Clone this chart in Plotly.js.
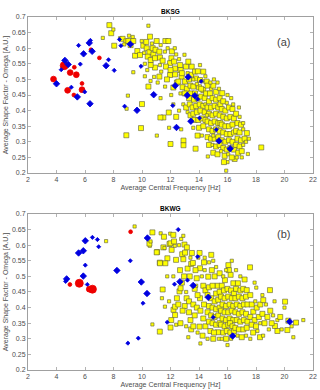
<!DOCTYPE html>
<html>
<head>
<meta charset="utf-8">
<script src="https://cdn.plot.ly/plotly-3.0.1.min.js"></script>
<style>
  body { margin: 0; background: #fff; }
  #chart { width: 320px; height: 390px; }
</style>
</head>
<body>
<div id="chart"></div>
<script>
/* DATOS BKSG (panel a) - n = clase de tamano (1 pequeno, 2 grande, 3 muy grande) */
var bksgAmaX = [
  7.25,7.71,7.84,7.99,8.05,8.46,8.64,8.9,9.04,9.09,
  9.2,9.35,9.39,8.75,9.51,9.67,9.86,9.98,10.09,10.45,
  10.33,10.52,10.56,10.75,10.8,10.4,10.61,10.91,10.91,10.61,
  10.37,10.45,10.2,10.7,10.95,10.15,10.85,10.6,9.39,10.3,
  11.03,11.31,11.64,11.85,11.22,11.26,11.61,12.06,11.97,12.25,
  11.68,11.26,11.22,11.97,12.32,12.32,11.62,12.2,11.5,11.88,
  11.45,11.8,12.1,12.4,11.35,11.75,12.0,12.45,11.1,12.05,
  11.04,11.29,12.0,11.3,12.3,12.67,13.09,13.49,13.25,12.71,
  12.78,12.55,13.02,13.3,12.98,12.6,12.85,13.15,13.4,12.7,
  13.0,13.3,12.9,13.45,13.2,12.91,12.91,13.1,13.35,12.6,
  13.45,12.8,13.2,13.4,12.75,13.72,14.07,13.79,14.3,14.07,
  14.54,13.6,13.72,14.3,14.22,13.92,14.0,13.65,13.9,14.15,
  14.4,13.55,13.8,14.05,14.3,13.6,13.85,14.1,14.4,13.7,
  13.95,14.2,14.45,13.6,14.0,14.3,13.9,14.2,13.76,14.45,
  13.6,14.45,14.15,13.85,14.5,14.77,14.6,14.85,15.0,15.2,
  15.4,14.7,14.95,15.2,15.45,14.6,14.85,15.1,15.35,14.7,
  14.95,15.2,15.45,14.6,14.85,15.1,15.35,14.7,14.95,15.2,
  15.45,14.6,14.85,15.1,15.35,14.7,14.95,15.2,15.45,14.62,
  15.0,15.3,14.55,15.05,15.5,14.8,15.3,15.5,15.0,15.63,
  16.26,15.7,15.95,15.6,15.85,16.1,16.35,15.7,15.95,16.2,
  16.45,15.6,15.85,16.1,16.35,15.7,15.95,16.2,16.45,15.6,
  15.85,16.1,16.35,15.7,15.95,16.2,16.45,15.8,16.05,16.5,
  15.91,16.3,15.55,16.0,15.75,16.4,16.0,16.6,16.85,16.7,
  16.95,16.6,16.85,17.1,16.7,16.95,17.2,16.6,16.85,17.1,
  16.75,17.0,17.43,17.36,18.37,17.3,17.1,16.65,17.5,17.0,
  16.8,8.9,9.01,8.92,10.0,9.93,10.2,11.9,12.4,12.2
];
var bksgAmaY = [
  0.633,0.674,0.648,0.66,0.608,0.632,0.63,0.622,0.623,0.64,
  0.61,0.636,0.623,0.612,0.576,0.591,0.578,0.623,0.608,0.672,
  0.6,0.587,0.637,0.6,0.58,0.573,0.562,0.568,0.538,0.546,
  0.53,0.477,0.55,0.615,0.595,0.585,0.508,0.495,0.523,0.62,
  0.623,0.61,0.623,0.623,0.589,0.57,0.589,0.568,0.552,0.557,
  0.541,0.546,0.509,0.514,0.516,0.535,0.477,0.474,0.378,0.394,
  0.56,0.6,0.59,0.58,0.525,0.5,0.53,0.49,0.49,0.45,
  0.32,0.378,0.293,0.44,0.6,0.546,0.541,0.541,0.557,0.53,
  0.509,0.493,0.493,0.5,0.579,0.565,0.475,0.47,0.48,0.455,
  0.455,0.44,0.42,0.515,0.52,0.304,0.289,0.41,0.42,0.4,
  0.455,0.52,0.395,0.385,0.34,0.525,0.546,0.503,0.525,0.498,
  0.493,0.477,0.455,0.466,0.494,0.526,0.475,0.435,0.44,0.445,
  0.44,0.41,0.415,0.42,0.415,0.39,0.395,0.4,0.395,0.37,
  0.37,0.375,0.37,0.345,0.345,0.35,0.32,0.32,0.278,0.42,
  0.5,0.51,0.47,0.485,0.455,0.455,0.48,0.47,0.48,0.46,
  0.47,0.43,0.44,0.435,0.44,0.41,0.41,0.415,0.41,0.39,
  0.385,0.39,0.385,0.365,0.36,0.365,0.36,0.34,0.335,0.34,
  0.335,0.315,0.31,0.31,0.315,0.29,0.29,0.285,0.29,0.253,
  0.265,0.26,0.385,0.5,0.42,0.49,0.49,0.36,0.32,0.456,
  0.44,0.43,0.425,0.405,0.4,0.41,0.405,0.38,0.375,0.38,
  0.375,0.355,0.35,0.35,0.355,0.33,0.325,0.325,0.33,0.305,
  0.3,0.305,0.3,0.28,0.275,0.28,0.275,0.255,0.26,0.245,
  0.2075,0.25,0.27,0.235,0.235,0.42,0.45,0.39,0.38,0.36,
  0.355,0.335,0.33,0.34,0.31,0.305,0.31,0.29,0.285,0.29,
  0.265,0.27,0.261,0.328,0.282,0.3,0.36,0.25,0.31,0.25,
  0.41,0.321,0.448,0.406,0.421,0.344,0.51,0.345,0.38,0.42
];
var bksgAmaN = [
  1,2,2,1,2,1,2,2,2,1,
  2,1,2,1,2,2,2,1,2,1,
  2,2,2,2,2,2,2,2,2,2,
  1,2,1,1,2,1,1,1,1,2,
  2,1,2,2,2,2,1,2,2,2,
  2,1,2,2,2,2,1,2,2,2,
  2,1,2,1,1,2,2,2,1,1,
  1,2,2,1,1,2,2,2,2,2,
  2,2,2,2,1,1,2,2,2,1,
  2,2,1,2,1,2,2,2,2,1,
  2,2,1,2,1,2,1,2,2,2,
  2,2,2,2,1,2,2,2,2,2,
  2,2,2,2,2,2,2,2,2,2,
  2,2,2,1,2,2,2,1,2,1,
  1,1,2,1,2,2,2,1,2,2,
  1,2,2,2,2,2,2,2,2,2,
  2,2,2,2,2,2,2,2,2,2,
  2,2,2,2,2,2,1,2,2,1,
  2,2,1,1,2,1,1,2,1,2,
  1,2,1,2,2,2,2,2,2,2,
  2,2,2,2,2,2,2,2,2,2,
  2,2,2,2,2,2,2,2,1,2,
  1,2,1,1,2,1,1,2,1,2,
  2,2,2,1,2,2,2,2,2,1,
  2,2,1,2,2,1,1,1,1,1,
  1,2,1,1,2,2,1,1,2,1
];

var bksgAzulX = [4.0,4.33,4.59,4.82,5.04,5.46,5.55,5.67,5.9,5.98,
  6.3,6.35,6.5,7.48,7.65,8.05,8.42,8.52,9.18,9.93,
  8.78,9.65,10.82,12.33,13.24,13.17,13.71,13.9,14.15,12.16,
  13.43,12.42,14.04,15.21,15.4,16.19,6.38];
var bksgAzulY = [0.486,0.531,0.561,0.548,0.475,0.444,0.609,0.549,0.582,0.46,
  0.617,0.422,0.59,0.544,0.563,0.529,0.628,0.608,0.613,0.542,
  0.414,0.401,0.451,0.48,0.508,0.449,0.448,0.437,0.494,0.416,
  0.366,0.346,0.376,0.339,0.303,0.278,0.625];
var bksgAzulN = [2,1,2,2,1,2,1,1,2,1,
  2,2,2,2,1,1,1,1,2,1,
  1,2,2,2,2,2,2,1,1,1,
  2,2,1,1,2,2,1];

var bksgRojoX = [3.79,4.54,4.96,5.39,4.78,5.79,5.25,5.22,5.79,6.42,7.01];
var bksgRojoY = [0.501,0.544,0.522,0.515,0.465,0.467,0.539,0.45,0.487,0.595,0.569];
var bksgRojoN = [2,3,2,2,2,2,1,1,1,1,1];

/* DATOS BKWG (panel b) */
var bkwgAmaX = [
  7.48,9.48,10.55,10.73,10.52,10.6,11.06,11.25,10.73,11.25,
  11.31,11.54,11.98,12.2,11.93,11.5,11.58,11.03,12.01,12.08,
  11.78,11.64,11.26,12.39,12.3,12.25,11.45,11.4,11.61,12.21,
  12.0,12.32,12.32,12.63,12.05,12.4,11.77,12.2,12.45,11.9,
  12.67,12.82,12.98,13.15,13.02,12.9,12.71,13.13,13.3,12.8,
  12.95,13.2,13.4,13.35,13.45,12.6,12.75,13.1,13.0,12.85,
  13.3,13.4,12.7,13.1,13.45,13.25,12.55,13.57,14.04,13.84,
  14.07,14.07,13.7,14.3,13.9,14.2,14.35,13.75,14.45,13.6,
  13.85,14.1,14.35,13.7,14.04,14.3,13.6,13.9,14.25,14.45,
  14.1,13.8,14.4,13.95,14.86,14.7,14.65,14.9,15.1,15.3,
  14.7,14.95,15.2,15.45,14.6,14.85,15.1,15.35,14.7,14.95,
  15.2,15.45,14.6,14.85,15.1,15.35,14.7,14.95,15.2,15.45,
  15.33,14.8,15.05,14.6,15.0,15.4,15.2,15.45,15.0,16.06,
  16.1,16.22,15.82,16.41,15.6,15.75,16.0,16.25,16.45,15.55,
  15.8,16.05,16.3,15.65,15.9,16.15,16.4,15.55,15.8,16.05,
  16.3,15.65,15.9,16.15,16.4,15.55,15.8,16.05,16.18,16.35,
  15.7,15.95,16.2,16.45,15.6,15.9,16.25,16.0,15.7,16.3,
  16.73,16.6,16.9,17.1,17.35,16.55,16.8,17.05,17.3,16.65,
  16.9,17.15,17.4,16.55,16.8,17.05,17.3,16.65,16.9,17.15,
  17.4,16.55,16.8,17.11,17.35,16.7,17.0,17.3,16.9,17.2,
  16.6,17.58,18.02,17.6,17.81,18.05,17.7,17.95,18.3,17.6,
  17.9,18.2,18.45,17.7,18.0,18.3,17.8,18.28,18.1,17.6,
  18.45,17.9,18.98,18.51,18.7,19.0,18.8,19.2,18.6,19.33,
  19.1,19.5,18.9,19.5,20.04,20.0,19.3,20.27,20.81,21.32,
  20.62,20.2,19.8,18.5,19.7,20.5,13.5,14.4,12.9,15.9
];
var bkwgAmaY = [
  0.613,0.66,0.598,0.641,0.605,0.612,0.578,0.544,0.346,0.323,
  0.638,0.627,0.637,0.633,0.604,0.593,0.591,0.577,0.606,0.585,
  0.558,0.542,0.542,0.553,0.598,0.612,0.458,0.43,0.403,0.393,
  0.336,0.403,0.376,0.452,0.36,0.345,0.5,0.5,0.43,0.42,
  0.52,0.571,0.602,0.593,0.576,0.555,0.462,0.43,0.42,0.48,
  0.5,0.525,0.56,0.5,0.54,0.6,0.62,0.45,0.405,0.39,
  0.385,0.36,0.35,0.34,0.33,0.305,0.41,0.543,0.575,0.494,
  0.526,0.43,0.46,0.47,0.44,0.5,0.545,0.52,0.455,0.41,
  0.4,0.39,0.41,0.375,0.339,0.365,0.34,0.32,0.31,0.34,
  0.285,0.47,0.52,0.56,0.569,0.545,0.499,0.52,0.5,0.47,
  0.465,0.47,0.445,0.45,0.44,0.43,0.42,0.425,0.405,0.4,
  0.395,0.4,0.385,0.375,0.37,0.375,0.355,0.35,0.345,0.35,
  0.321,0.325,0.32,0.3,0.3,0.3,0.53,0.51,0.55,0.536,
  0.52,0.505,0.488,0.478,0.47,0.455,0.46,0.455,0.445,0.435,
  0.43,0.435,0.43,0.41,0.405,0.41,0.405,0.39,0.385,0.385,
  0.39,0.365,0.36,0.365,0.36,0.345,0.34,0.345,0.35,0.34,
  0.32,0.325,0.32,0.325,0.3,0.3,0.3,0.28,0.5,0.55,
  0.478,0.46,0.455,0.46,0.456,0.43,0.435,0.43,0.435,0.41,
  0.405,0.41,0.41,0.385,0.38,0.385,0.38,0.36,0.355,0.36,
  0.355,0.335,0.33,0.33,0.335,0.31,0.305,0.31,0.5,0.49,
  0.52,0.529,0.464,0.44,0.387,0.4,0.41,0.42,0.41,0.37,
  0.36,0.37,0.38,0.345,0.34,0.35,0.32,0.305,0.325,0.3,
  0.44,0.48,0.456,0.424,0.41,0.39,0.37,0.375,0.35,0.341,
  0.35,0.36,0.33,0.325,0.419,0.4,0.42,0.358,0.352,0.36,
  0.305,0.328,0.33,0.31,0.37,0.34,0.575,0.56,0.63,0.52
];
var bkwgAmaN = [
  1,1,1,2,2,1,2,2,1,2,
  1,2,1,2,2,2,1,2,2,2,
  2,2,2,2,1,2,2,1,1,2,
  2,2,2,2,2,1,1,1,2,1,
  2,2,2,2,2,2,2,2,2,2,
  2,2,1,2,2,1,1,1,2,2,
  2,2,2,1,2,1,2,2,2,2,
  2,2,2,2,2,1,2,2,2,2,
  2,2,2,2,2,2,2,1,2,2,
  1,1,1,1,2,1,2,2,2,2,
  2,2,2,2,2,2,2,2,2,2,
  2,2,2,2,2,2,2,2,2,2,
  2,2,2,1,2,1,1,2,1,2,
  2,2,2,2,2,2,2,2,2,2,
  2,2,2,2,2,2,2,2,2,2,
  2,2,2,2,2,2,2,2,2,2,
  2,2,2,2,1,2,1,1,1,1,
  2,2,2,2,2,2,2,2,2,2,
  2,2,2,2,2,2,2,2,2,2,
  2,2,2,2,2,1,2,1,1,2,
  1,2,1,2,2,2,2,1,2,2,
  2,2,2,2,2,1,2,2,1,1,
  1,1,2,2,1,2,2,1,2,2,
  2,1,1,2,2,1,1,2,2,1,
  1,2,1,1,2,1,2,1,1,1
];

var bkwgAzulX = [4.71,4.64,5.55,5.88,6.02,6.52,6.87,6.96,6.02,5.88,
  6.16,6.4,8.24,9.18,10.38,9.95,10.35,10.07,9.74,9.01,
  12.54,13.9,13.19,12.28,12.66,13.59,14.65,15.0,11.77,16.36,
  20.36];
var bkwgAzulY = [0.492,0.484,0.575,0.582,0.614,0.625,0.618,0.595,0.536,0.501,
  0.474,0.458,0.519,0.55,0.623,0.482,0.445,0.414,0.302,0.286,
  0.65,0.563,0.488,0.475,0.483,0.471,0.433,0.369,0.353,0.309,
  0.355];
var bkwgAzulN = [2,1,2,2,2,1,1,1,1,2,
  1,2,2,1,2,2,2,1,1,1,
  1,1,1,1,2,2,2,1,1,2,
  2];

var bkwgRojoX = [4.94,5.6,6.3,6.52,9.2];
var bkwgRojoY = [0.474,0.478,0.459,0.459,0.643];
var bkwgRojoN = [1,3,2,3,1];

/* Tamanos por clase */
var tamAma = [0, 3.2, 5];
var tamAzul = [0, 3.2, 5];
var tamRojo = [0, 3.8, 5.8, 8];

function serie(xs, ys, ns, eje, color, simbolo, tams, borde){
  var sz = [];
  for (var i = 0; i < ns.length; i++) { sz.push(tams[ns[i]]); }
  return {
    x: xs, y: ys,
    xaxis: eje[0], yaxis: eje[1],
    type: 'scatter', mode: 'markers',
    hoverinfo: 'skip',
    marker: { symbol: simbolo, color: color, size: sz, opacity: 1,
      line: { color: borde, width: simbolo === 'square' ? 0.6 : 0.8 } }
  };
}

var ejeA = ['x', 'y'];
var ejeB = ['x2', 'y2'];

var data = [
  serie(bksgAmaX, bksgAmaY, bksgAmaN, ejeA, '#ffff00', 'square', tamAma, '#5a5a3a'),
  serie(bksgRojoX, bksgRojoY, bksgRojoN, ejeA, '#ee0000', 'circle', tamRojo, '#ee0000'),
  serie(bksgAzulX, bksgAzulY, bksgAzulN, ejeA, '#0000e0', 'diamond', tamAzul, '#0000e0'),
  serie(bkwgAmaX, bkwgAmaY, bkwgAmaN, ejeB, '#ffff00', 'square', tamAma, '#5a5a3a'),
  serie(bkwgAzulX, bkwgAzulY, bkwgAzulN, ejeB, '#0000e0', 'diamond', tamAzul, '#0000e0'),
  serie(bkwgRojoX, bkwgRojoY, bkwgRojoN, ejeB, '#ee0000', 'circle', tamRojo, '#ee0000')
];

var fuente = 'Liberation Sans, Arial, sans-serif';
var gris = '#4d4d4d';

function ejeX(ancla){
  return {
    anchor: ancla, range: [2, 22], dtick: 2, tick0: 2,
    showgrid: false, zeroline: false,
    showline: true, linecolor: '#a0a0a0', linewidth: 1, mirror: 'ticks',
    ticks: 'inside', ticklen: 3, tickcolor: '#a0a0a0', tickwidth: 0.8,
    tickfont: { family: fuente, size: 7, color: gris },
    title: { text: 'Average Central Frequency [Hz]', standoff: 2,
      font: { family: fuente, size: 7, color: gris } }
  };
}
function ejeY(ancla, dominio){
  return {
    anchor: ancla, domain: dominio, range: [0.2, 0.7], dtick: 0.05, tick0: 0.2,
    showgrid: false, zeroline: false,
    showline: true, linecolor: '#a0a0a0', linewidth: 1, mirror: 'ticks',
    ticks: 'inside', ticklen: 3, tickcolor: '#a0a0a0', tickwidth: 0.8,
    tickfont: { family: fuente, size: 7, color: gris },
    title: { text: 'Average Shape Factor - Omega [A.U.]', standoff: 2,
      font: { family: fuente, size: 7, color: gris } }
  };
}

var layout = {
  width: 320, height: 390,
  margin: { l: 28, r: 7, t: 17, b: 20 },
  paper_bgcolor: '#fff', plot_bgcolor: '#fff',
  showlegend: false,
  xaxis: ejeX('y'),
  yaxis: ejeY('x', [0.558, 1]),
  xaxis2: ejeX('y2'),
  yaxis2: ejeY('x2', [0, 0.442]),
  annotations: [
    { text: '<b>BKSG</b>', xref: 'paper', yref: 'paper', x: 0.5, y: 1,
      xanchor: 'center', yanchor: 'bottom', showarrow: false,
      font: { family: fuente, size: 6.5, color: '#000' } },
    { text: '<b>BKWG</b>', xref: 'paper', yref: 'paper', x: 0.5, y: 0.442,
      xanchor: 'center', yanchor: 'bottom', showarrow: false,
      font: { family: fuente, size: 6.5, color: '#000' } },
    { text: '(a)', xref: 'x', yref: 'y', x: 19.95, y: 0.62,
      showarrow: false, font: { family: fuente, size: 11, color: '#444' } },
    { text: '(b)', xref: 'x2', yref: 'y2', x: 19.9, y: 0.636,
      showarrow: false, font: { family: fuente, size: 11, color: '#444' } }
  ]
};

Plotly.newPlot('chart', data, layout, { staticPlot: true });
</script>
</body>
</html>
